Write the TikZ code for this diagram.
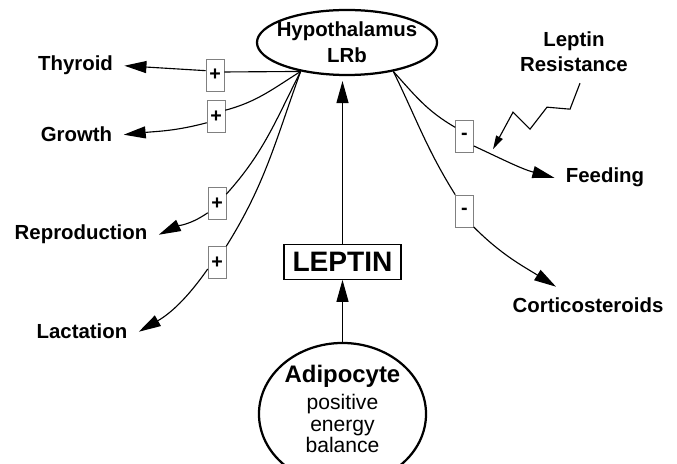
\documentclass[tikz,border=0pt]{standalone}
\usepackage{fontspec}
\setmainfont{Liberation Sans}
\usetikzlibrary{arrows.meta, positioning, shapes.geometric}

\begin{document}
\begin{tikzpicture}[
    x=0.025cm, y=0.025cm,
    oval/.style={draw, ellipse, line width=1.6pt, align=center},
    lbl/.style={font=\fontsize{14.5}{18}\selectfont\bfseries, align=center, anchor=base, inner sep=8pt},
    sign/.style={draw=gray, fill=white, inner sep=0pt, minimum width=0.45cm, minimum height=0.8cm, font=\fontsize{14}{14}\selectfont\bfseries},
    arr/.style={-{Triangle[length=5.5mm, width=3mm]}, line width=0.8pt},
    zig/.style={-{Triangle[length=3.4mm, width=1.8mm]}, line width=0.8pt}
]
\useasboundingbox (0,0) rectangle (677,-464);

\node[oval, inner xsep=-5.5pt, inner ysep=0pt, minimum width=4.5cm, minimum height=1.625cm, font=\fontsize{14.5}{18.5}\selectfont\bfseries] (hyp) at (347,-42.5) {Hypothalamus\\LRb};
\node[oval, inner sep=0pt, minimum width=4.175cm, minimum height=3.55cm, font=\fontsize{15}{15.3}\selectfont] (adi) at (342.5,-414) {{\fontsize{17}{19}\selectfont\bfseries Adipocyte}\\[3.9pt]positive\\energy\\balance\rule[-7pt]{0pt}{7pt}};
\node[draw, line width=0.8pt, inner sep=0pt, minimum width=2.925cm, minimum height=0.875cm, font=\fontsize{20}{20}\selectfont\bfseries, above=1.55cm of adi] (lep) {LEPTIN};

\node[lbl] (thy) at (75.5,-71) {Thyroid};
\node[lbl] (gro) at (76.5,-142) {Growth};
\node[lbl] (rep) at (81,-240) {Reproduction};
\node[lbl] (lac) at (82,-339) {Lactation};
\node[lbl] (fee) at (605,-183) {Feeding};
\node[lbl] (cor) at (588,-313) {Corticosteroids};
\node[lbl, anchor=center] (lres) at (574,-51.5) {Leptin\\Resistance};

\node[sign] (bthy) at (215,-75) {+};
\node[sign] (bgro) at (216,-116.5) {+};
\node[sign] (brep) at (217,-203.5) {+};
\node[sign] (blac) at (217,-262.5) {+};
\node[sign] (bfee) at (464.5,-136) {-};
\node[sign] (bcor) at (464.5,-211) {-};

\draw[arr] (adi) -- (lep);
\draw[arr, shorten >=3.5pt] (lep.north) -- (lep.north |- hyp.south);
\draw[arr] (hyp.212) -- (bthy.18) (bthy.155) -- (thy.east);
\draw[arr] (hyp.212) to[out=212, in=15] (bgro.34) (bgro.214) to[out=195, in=6] (gro.east);
\draw[arr] (hyp.212) to[out=243, in=48] (brep.45) (brep.225) to[out=215, in=25] (rep.east);
\draw[arr] (hyp.212) to[out=250, in=58] (blac.north east) (blac.215) to[out=235, in=30] (lac.east);
\draw[arr] (hyp.328) to[out=-48, in=150] (bfee.137) (bfee.-47) to[out=-25, in=165] (fee.west);
\draw[arr] (hyp.328) to[out=-64, in=122] (bcor.north west) (bcor.-60) to[out=-45, in=148] ([xshift=-0.8cm]cor.north);
\draw[zig] ([xshift=0.15cm]lres.south) -- ++(-10,-26) -- ++(-23,2) -- ++(-17,-22) -- ++(-17,17) -- ++(-20,-37);
\end{tikzpicture}
\end{document}
